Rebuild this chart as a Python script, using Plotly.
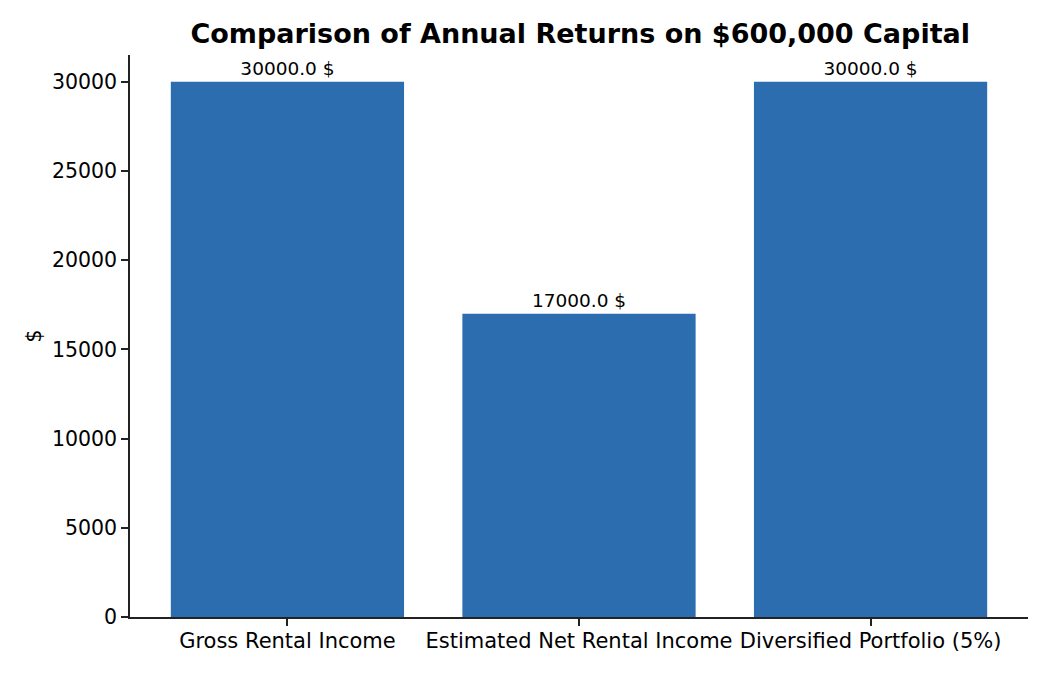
import plotly.graph_objects as go

# data
categories = ['Gross Rental Income', 'Estimated Net Rental Income', 'Diversified Portfolio (5%)']
returns = [30000, 17000, 30000]
ytick_vals = [0, 5000, 10000, 15000, 20000, 25000, 30000]

fig = go.Figure()
fig.add_trace(go.Bar(
    x=categories, y=returns,
    width=0.8,
    marker=dict(color='#2c6db0', line=dict(width=0)),
    texttemplate='%{y:.1f} $', textposition='outside',
    textfont=dict(size=18.5, color='black'),
    cliponaxis=False,
))

fig.update_layout(
    width=1050, height=675,
    font=dict(family='DejaVu Sans', color='black', size=21),
    paper_bgcolor='white', plot_bgcolor='white',
    title=dict(text='<b>Comparison of Annual Returns on $600,000 Capital</b>',
               x=0.545, xanchor='center', y=0.962, yanchor='middle',
               font=dict(size=27)),
    margin=dict(l=122, r=30, t=47, b=66, autoexpand=False),
    showlegend=False,
    bargap=0.2,
)
fig.update_xaxes(
    range=[-0.54, 2.54], showline=True, linecolor='#222', linewidth=1.5,
    ticks='outside', ticklen=7, tickwidth=1.5, tickcolor='#222',
    showgrid=False, zeroline=False, tickfont=dict(size=21),
    ticklabelstandoff=-3,
)
fig.update_yaxes(
    range=[0, 31500], tickvals=ytick_vals, tickformat='d',
    showline=True, linecolor='#222', linewidth=1.5,
    ticks='outside', ticklen=7, tickwidth=1.5, tickcolor='#222',
    showgrid=False, zeroline=False, tickfont=dict(size=20.5),
    title=dict(text='$', standoff=5, font=dict(size=21)),
)

fig.write_html('out.html')
